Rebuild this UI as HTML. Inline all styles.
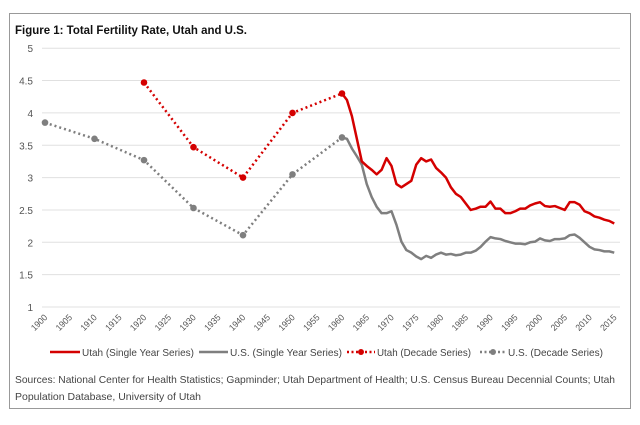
<!DOCTYPE html><html><head><style>body{margin:0;background:#fff;font-family:"Liberation Sans",sans-serif}</style></head><body>
<svg id="s" width="640" height="420" xmlns="http://www.w3.org/2000/svg" font-family="Liberation Sans, sans-serif">
<rect x="9.5" y="13.5" width="621" height="395" fill="#fff" stroke="#999"/>
<text x="15" y="34" font-size="11.5" font-weight="bold" fill="#111" textLength="232" lengthAdjust="spacingAndGlyphs">Figure 1: Total Fertility Rate, Utah and U.S.</text>
<g id="g"></g>
<g font-size="10.5" fill="#444">
<line x1="50" y1="352" x2="80" y2="352" stroke="#d40000" stroke-width="2.5"/><text x="82" y="356" textLength="112" lengthAdjust="spacingAndGlyphs">Utah (Single Year Series)</text>
<line x1="199" y1="352" x2="228" y2="352" stroke="#7f7f7f" stroke-width="2.5"/><text x="230" y="356" textLength="112" lengthAdjust="spacingAndGlyphs">U.S. (Single Year Series)</text>
<line x1="347" y1="352" x2="375" y2="352" stroke="#d40000" stroke-width="2.5" stroke-dasharray="2,2.5"/><circle cx="361" cy="352" r="3" fill="#d40000"/><text x="377" y="356" textLength="94" lengthAdjust="spacingAndGlyphs">Utah (Decade Series)</text>
<line x1="480" y1="352" x2="506" y2="352" stroke="#7f7f7f" stroke-width="2.5" stroke-dasharray="2,2.5"/><circle cx="493" cy="352" r="3" fill="#7f7f7f"/><text x="508" y="356" textLength="95" lengthAdjust="spacingAndGlyphs">U.S. (Decade Series)</text>
<text x="15" y="383" textLength="600" lengthAdjust="spacingAndGlyphs">Sources: National Center for Health Statistics;  Gapminder; Utah Department of Health; U.S. Census Bureau Decennial Counts; Utah</text>
<text x="15" y="400" textLength="186" lengthAdjust="spacingAndGlyphs">Population Database, University of Utah</text>
</g>
</svg>
<script>
const g=document.getElementById('g');let h='';
const X=y=>45+(y-1900)*4.95, Y=v=>307-(v-1)*64.7;
for(let v=1;v<=5;v+=0.5){h+=`<line x1="42" x2="620" y1="${Y(v)}" y2="${Y(v)}" stroke="#e0e0e0"/><text x="33" y="${Y(v)+4}" text-anchor="end" font-size="10" fill="#555">${v}</text>`;}
for(let y=1900;y<=2015;y+=5){const x=X(y)+3,yy=318;h+=`<text transform="translate(${x},${yy}) rotate(-45)" text-anchor="end" font-size="9" fill="#555" textLength="19" lengthAdjust="spacingAndGlyphs">${y}</text>`;}
const ut=[4.3,4.2,3.95,3.6,3.25,3.18,3.12,3.05,3.12,3.3,3.18,2.9,2.85,2.9,2.95,3.2,3.3,3.25,3.28,3.15,3.08,3.0,2.85,2.75,2.7,2.6,2.5,2.52,2.55,2.55,2.63,2.52,2.52,2.45,2.45,2.48,2.52,2.52,2.57,2.6,2.62,2.56,2.55,2.56,2.53,2.5,2.62,2.62,2.58,2.48,2.45,2.4,2.38,2.35,2.33,2.29];
const us=[3.62,3.6,3.45,3.33,3.2,2.9,2.7,2.55,2.45,2.45,2.48,2.27,2.01,1.88,1.84,1.78,1.74,1.79,1.76,1.81,1.84,1.81,1.82,1.8,1.81,1.84,1.84,1.87,1.93,2.01,2.08,2.06,2.05,2.02,2.0,1.98,1.98,1.97,2.0,2.01,2.06,2.03,2.02,2.05,2.05,2.06,2.11,2.12,2.07,2.0,1.93,1.89,1.88,1.86,1.86,1.84];
const pl=(a,s)=>`<polyline fill="none" stroke-linejoin="round" stroke-width="2.5" stroke="${s}" points="${a.map((v,i)=>X(1960+i)+','+Y(v)).join(' ')}"/>`;
const ud=[[1920,4.47],[1930,3.47],[1940,3.0],[1950,4.0],[1960,4.3]],usd=[[1900,3.85],[1910,3.6],[1920,3.27],[1930,2.53],[1940,2.11],[1950,3.05],[1960,3.62]];
const dl=(a,s)=>`<polyline fill="none" stroke-width="2.5" stroke-dasharray="2,3" stroke="${s}" points="${a.map(p=>X(p[0])+','+Y(p[1])).join(' ')}"/>`+a.map(p=>`<circle cx="${X(p[0])}" cy="${Y(p[1])}" r="3.3" fill="${s}"/>`).join('');
h+=pl(us,'#7f7f7f')+pl(ut,'#d40000')+dl(usd,'#7f7f7f')+dl(ud,'#d40000');
g.innerHTML=h;
</script></body></html>
